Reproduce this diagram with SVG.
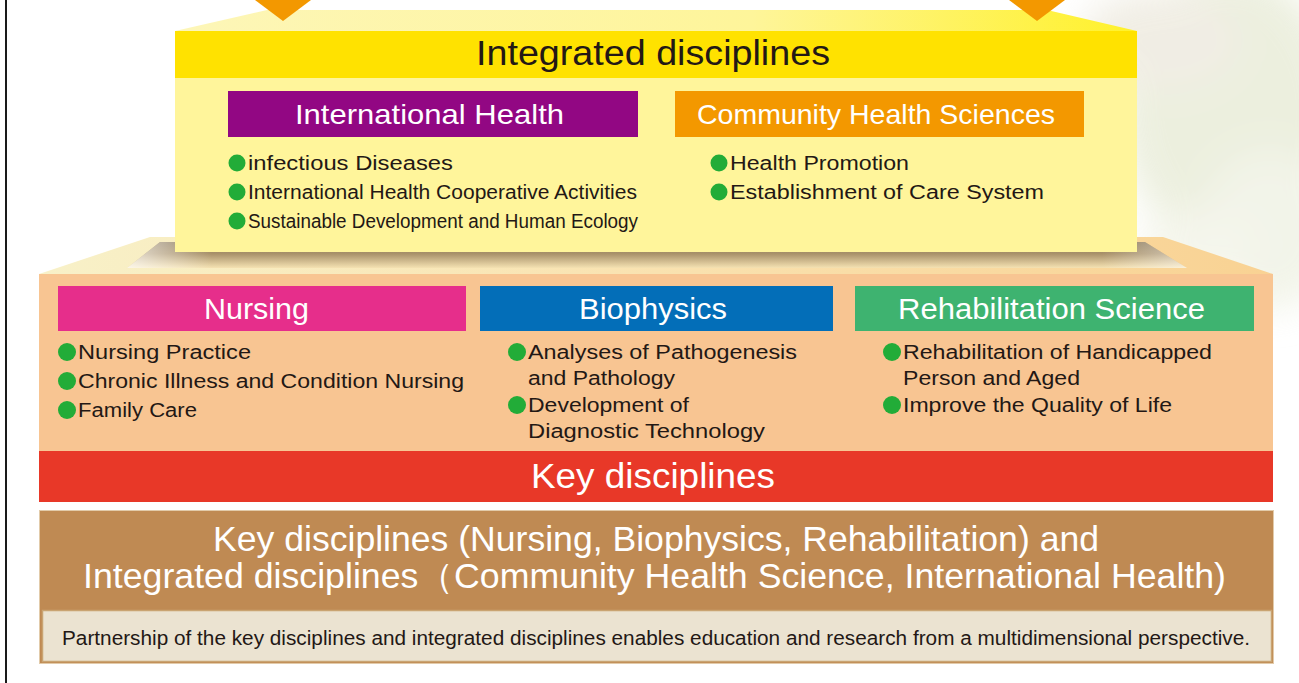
<svg xmlns="http://www.w3.org/2000/svg" width="1299" height="683" viewBox="0 0 1299 683">
<defs>
<style>
text{font-family:"Liberation Sans",Arial,sans-serif;}
.dk{fill:#231815;}
.wt{fill:#ffffff;}
.item{font-size:20px;fill:#231815;}
.hd{font-size:29px;fill:#ffffff;}
.bul{fill:#22ac38;}
</style>
<linearGradient id="gTopTrap" x1="0" y1="0" x2="1" y2="0">
<stop offset="0" stop-color="#fdf6b8"/>
<stop offset="0.6" stop-color="#fef59a"/>
<stop offset="1" stop-color="#fff12a"/>
</linearGradient>
<linearGradient id="gLowTrap" x1="0" y1="0" x2="1" y2="0">
<stop offset="0" stop-color="#f8f1c8"/>
<stop offset="0.5" stop-color="#f9e2b0"/>
<stop offset="1" stop-color="#f9d293"/>
</linearGradient>
<linearGradient id="gShadow" x1="0" y1="0" x2="0" y2="1">
<stop offset="0" stop-color="#8d7a5a"/>
<stop offset="0.45" stop-color="#a8916a"/>
<stop offset="1" stop-color="#f5e2b2"/>
</linearGradient>
<linearGradient id="gShadowH" x1="0" y1="0" x2="1" y2="0">
<stop offset="0" stop-color="#fff" stop-opacity="0.7"/>
<stop offset="0.08" stop-color="#fff" stop-opacity="0"/>
<stop offset="0.92" stop-color="#fff" stop-opacity="0"/>
<stop offset="1" stop-color="#fff" stop-opacity="0.5"/>
</linearGradient>
<filter id="blur" x="-50%" y="-50%" width="200%" height="200%">
<feGaussianBlur stdDeviation="18"/>
</filter>
</defs>

<rect x="0" y="0" width="1299" height="683" fill="#ffffff"/>

<g id="background-photo" filter="url(#blur)" opacity="0.75">
<ellipse cx="1230" cy="110" rx="110" ry="140" fill="#e6ead4"/>
<ellipse cx="1160" cy="40" rx="80" ry="50" fill="#ece8dc"/>
<ellipse cx="1270" cy="230" rx="70" ry="80" fill="#eef1e2"/>
<ellipse cx="1200" cy="250" rx="60" ry="40" fill="#f2f3e6"/>
</g>

<line x1="6" y1="0" x2="6" y2="683" stroke="#1a1a1a" stroke-width="2"/>

<g id="lower-platform">
<polygon points="39,274 150,237 1163,237 1273,274" fill="url(#gLowTrap)"/>
<polygon points="160,242 1145,242 1187,268 127,268" fill="url(#gShadow)"/>
<polygon points="160,242 1145,242 1187,268 127,268" fill="url(#gShadowH)"/>
<rect x="39" y="274" width="1234" height="177" fill="#f8c592"/>
</g>

<g id="integrated-disciplines">
<polygon points="175,31 267,10 1047,10 1137,31" fill="url(#gTopTrap)"/>
<rect x="175" y="78" width="962" height="174" fill="#fff59b"/>
<rect x="175" y="31" width="962" height="47" fill="#ffe200"/>
<text x="476" y="65" font-size="35" class="dk" textLength="354" lengthAdjust="spacingAndGlyphs">Integrated disciplines</text>
</g>

<g id="connectors">
<polygon points="255,0 311,0 283,21" fill="#f39800"/>
<polygon points="1009,0 1065,0 1037,21" fill="#f39800"/>
</g>

<g id="international-health">
<rect x="228" y="91" width="410" height="46" fill="#920783"/>
<text x="295" y="124" font-size="28" class="wt" textLength="269" lengthAdjust="spacingAndGlyphs">International Health</text>
<circle cx="237" cy="163" r="8.5" class="bul"/>
<circle cx="237" cy="192" r="8.5" class="bul"/>
<circle cx="237" cy="221" r="8.5" class="bul"/>
<text x="248" y="170" class="item" textLength="205" lengthAdjust="spacingAndGlyphs">infectious Diseases</text>
<text x="248" y="199" class="item" textLength="389" lengthAdjust="spacingAndGlyphs">International Health Cooperative Activities</text>
<text x="248" y="228" class="item" textLength="390" lengthAdjust="spacingAndGlyphs">Sustainable Development and Human Ecology</text>
</g>

<g id="community-health-sciences">
<rect x="675" y="91" width="409" height="46" fill="#f39800"/>
<text x="697" y="124" font-size="28" class="wt" textLength="358" lengthAdjust="spacingAndGlyphs">Community Health Sciences</text>
<circle cx="719" cy="163" r="8.5" class="bul"/>
<circle cx="719" cy="192" r="8.5" class="bul"/>
<text x="730" y="170" class="item" textLength="179" lengthAdjust="spacingAndGlyphs">Health Promotion</text>
<text x="730" y="199" class="item" textLength="314" lengthAdjust="spacingAndGlyphs">Establishment of Care System</text>
</g>

<g id="nursing">
<rect x="58" y="286" width="408" height="45" fill="#e62e8b"/>
<text x="204" y="319" class="hd" textLength="105" lengthAdjust="spacingAndGlyphs">Nursing</text>
<circle cx="67" cy="352" r="9" class="bul"/>
<circle cx="67" cy="381" r="9" class="bul"/>
<circle cx="67" cy="410" r="9" class="bul"/>
<text x="78" y="359" class="item" textLength="173" lengthAdjust="spacingAndGlyphs">Nursing Practice</text>
<text x="78" y="388" class="item" textLength="386" lengthAdjust="spacingAndGlyphs">Chronic Illness and Condition Nursing</text>
<text x="78" y="417" class="item" textLength="119" lengthAdjust="spacingAndGlyphs">Family Care</text>
</g>

<g id="biophysics">
<rect x="480" y="286" width="353" height="45" fill="#036eb8"/>
<text x="579" y="319" class="hd" textLength="148" lengthAdjust="spacingAndGlyphs">Biophysics</text>
<circle cx="517" cy="352" r="9" class="bul"/>
<circle cx="517" cy="405" r="9" class="bul"/>
<text x="528" y="359" class="item" textLength="269" lengthAdjust="spacingAndGlyphs">Analyses of Pathogenesis</text>
<text x="528" y="385" class="item" textLength="147" lengthAdjust="spacingAndGlyphs">and Pathology</text>
<text x="528" y="412" class="item" textLength="161" lengthAdjust="spacingAndGlyphs">Development of</text>
<text x="528" y="438" class="item" textLength="237" lengthAdjust="spacingAndGlyphs">Diagnostic Technology</text>
</g>

<g id="rehabilitation-science">
<rect x="855" y="286" width="399" height="45" fill="#3eb370"/>
<text x="898" y="319" class="hd" textLength="307" lengthAdjust="spacingAndGlyphs">Rehabilitation Science</text>
<circle cx="892" cy="352" r="9" class="bul"/>
<circle cx="892" cy="405" r="9" class="bul"/>
<text x="903" y="359" class="item" textLength="309" lengthAdjust="spacingAndGlyphs">Rehabilitation of Handicapped</text>
<text x="903" y="385" class="item" textLength="177" lengthAdjust="spacingAndGlyphs">Person and Aged</text>
<text x="903" y="412" class="item" textLength="269" lengthAdjust="spacingAndGlyphs">Improve the Quality of Life</text>
</g>

<g id="key-disciplines">
<rect x="39" y="451" width="1234" height="51" fill="#e83828"/>
<text x="531" y="488" font-size="35" class="wt" textLength="244" lengthAdjust="spacingAndGlyphs">Key disciplines</text>
</g>

<g id="summary">
<rect x="39.5" y="510.5" width="1234" height="153" fill="#bf8a53" stroke="#e2cbaa" stroke-width="1"/>
<text x="213" y="551" font-size="35" class="wt" textLength="886" lengthAdjust="spacingAndGlyphs">Key disciplines (Nursing, Biophysics, Rehabilitation) and</text>
<text x="83" y="588" font-size="35" class="wt" textLength="1143" lengthAdjust="spacingAndGlyphs">Integrated disciplines（Community Health Science, International Health)</text>
<rect x="42.5" y="610.5" width="1229" height="51" fill="#ebe3d1" stroke="#c9a472" stroke-width="1.5"/>
<text x="62" y="645" font-size="20" class="dk" textLength="1188" lengthAdjust="spacingAndGlyphs">Partnership of the key disciplines and integrated disciplines enables education and research from a multidimensional perspective.</text>
</g>
</svg>
